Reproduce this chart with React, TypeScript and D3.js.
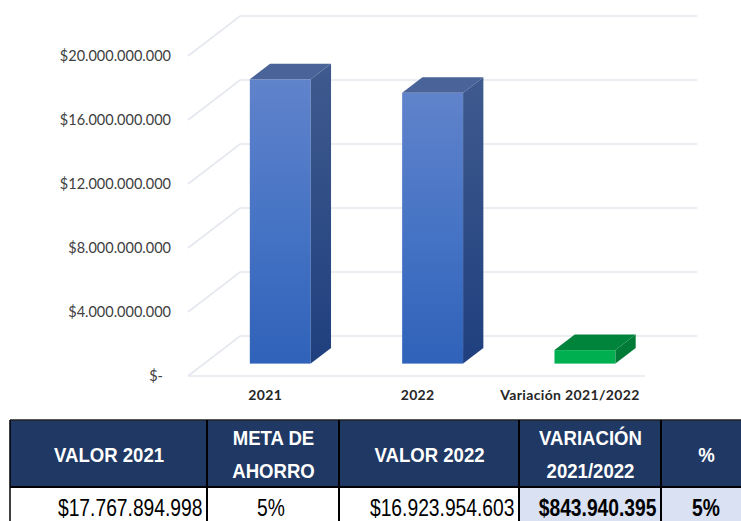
import React from "react";
import * as d3 from "d3";

const categories = ["2021", "2022", "Variación 2021/2022"];
const values = [17767894998, 16923954603, 843940395];
const barKinds = ["blue", "blue", "green"];
const ticks = [0, 4e9, 8e9, 12e9, 16e9, 20e9];
const tickLabels = ["$-", "$4.000.000.000", "$8.000.000.000", "$12.000.000.000", "$16.000.000.000", "$20.000.000.000"];
const headers = [["VALOR 2021"], ["META DE", "AHORRO"], ["VALOR 2022"], ["VARIACIÓN", "2021/2022"], ["%"]];
const rowCells = ["$17.767.894.998", "5%", "$16.923.954.603", "$843.940.395", "5%"];

const W = 741, H = 521;
const front = { x0: 188, x1: 645, y0: 376 };
const wall = { dx: 52, dy: -40 };
const bandDepth = 0.31;
const barDepth = 0.39;
const y = d3.scaleLinear().domain([0, 20e9]).range([0, -320]);
const x = d3.scaleBand<string>().domain(categories).range([front.x0 + wall.dx * bandDepth, front.x1 + wall.dx * bandDepth]).paddingInner(0.6).paddingOuter(0.3);
const colX = d3.scaleOrdinal<number, number>().domain([0, 1, 2, 3, 4, 5]).range([10, 207, 339, 519, 661, 751]);

const pts = (p: number[][]) => p.map((q) => q.join(",")).join(" ");
const TABLE_FONT = "'Liberation Sans',Arial,sans-serif";
const CHART_FONT = "Lato,'Open Sans',sans-serif";

export default function App() {
  const baseY = front.y0 + wall.dy * bandDepth;
  const dx = wall.dx * barDepth;
  const dy = wall.dy * barDepth;
  return (
    <svg width={W} height={H} viewBox={`0 0 ${W} ${H}`} style={{ position: "absolute", left: 0, top: 0, background: "#fff" }}>
      <defs>
        <linearGradient id="blueFront" x1="0" y1="0" x2="0" y2="1">
          <stop offset="0" stopColor="#6083CB" />
          <stop offset="0.55" stopColor="#4472C4" />
          <stop offset="1" stopColor="#2F62B9" />
        </linearGradient>
        <linearGradient id="blueSide" x1="0" y1="0" x2="0" y2="1">
          <stop offset="0" stopColor="#3F5A8E" />
          <stop offset="1" stopColor="#1F3F7E" />
        </linearGradient>
      </defs>
      {ticks.map((t, i) => {
        const fy = front.y0 + y(t);
        return (
          <g key={t}>
            <polyline
              points={pts([[front.x0, fy], [front.x0 + wall.dx, fy + wall.dy], [front.x1 + wall.dx, fy + wall.dy]])}
              fill="none" stroke="#E4E7EE" strokeWidth={1.6}
            />
            <text x={t === 0 ? 163 : 171} y={fy} dy="0.36em" textAnchor="end" fontFamily={CHART_FONT} fontSize={14.5} fill="#404040">
              {tickLabels[i]}
            </text>
          </g>
        );
      })}
      <line x1={front.x0} y1={front.y0} x2={front.x1} y2={front.y0} stroke="#E4E7EE" strokeWidth={1.6} />
      {categories.map((c, i) => {
        const x0 = x(c)!;
        const x1 = x0 + x.bandwidth();
        const top = baseY + y(values[i]);
        const green = barKinds[i] === "green";
        return (
          <g key={c}>
            <rect x={x0} y={top} width={x1 - x0} height={baseY - top} fill={green ? "#00B050" : "url(#blueFront)"} />
            <polygon points={pts([[x0, top], [x0 + dx, top + dy], [x1 + dx, top + dy], [x1, top]])} fill={green ? "#00843C" : "#4A6398"} />
            <polygon points={pts([[x1, top], [x1 + dx, top + dy], [x1 + dx, baseY + dy], [x1, baseY]])} fill={green ? "#007A37" : "url(#blueSide)"} />
          </g>
        );
      })}
      {categories.map((c) => (
        <text key={c} x={x(c)! + x.bandwidth() / 2 - 15} y={400} textAnchor="middle" fontFamily={CHART_FONT} fontSize={14} letterSpacing={0.35} fontWeight={700} fill="#262626">
          {c}
        </text>
      ))}
      {headers.map((h, i) => {
        const l = colX(i), r = colX(i + 1);
        return (
          <g key={i}>
            <rect x={l} y={420} width={r - l} height={67} fill="#1F3864" />
            {h.map((line, k) => (
              <text key={line} transform={`translate(${(l + r) / 2 + 0.5},${h.length === 1 ? 454 : 437 + k * 33}) scale(0.885,1)`} dy="0.36em" textAnchor="middle" fontFamily={TABLE_FONT} fontWeight={700} fontSize={21} fill="#fff">
                {line}
              </text>
            ))}
          </g>
        );
      })}
      {rowCells.map((cell, i) => {
        const l = colX(i), r = colX(i + 1);
        const emph = i >= 3;
        const centered = i === 1 || i === 4;
        return (
          <g key={i}>
            <rect x={l} y={487} width={r - l} height={34} fill={emph ? "#D9E1F2" : "#fff"} />
            <text transform={`translate(${centered ? (l + r) / 2 - (i === 1 ? 2 : 0) : r - 4.5},516) scale(0.82,1)`} textAnchor={centered ? "middle" : "end"} fontFamily={TABLE_FONT} fontWeight={emph ? 700 : 400} fontSize={23.5} fill="#000">
              {cell}
            </text>
          </g>
        );
      })}
      <line x1={10} y1={420} x2={W} y2={420} stroke="#222" strokeWidth={1.5} />
      <line x1={10} y1={487} x2={W} y2={487} stroke="#000" strokeWidth={2} />
      {d3.range(0, 5).map((i) => (
        <line key={i} x1={colX(i)} y1={420} x2={colX(i)} y2={H} stroke="#000" strokeWidth={i === 0 ? 1.5 : 2} />
      ))}
    </svg>
  );
}
